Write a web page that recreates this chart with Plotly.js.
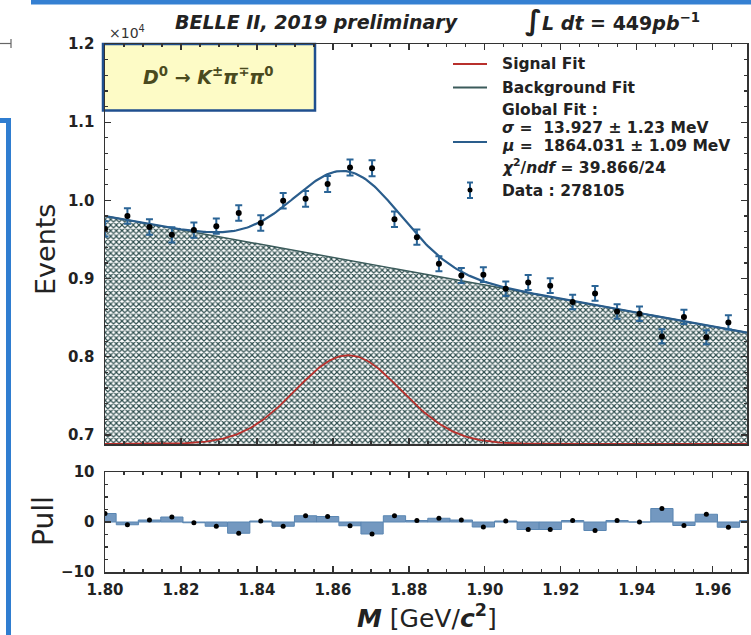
<!DOCTYPE html>
<html><head><meta charset="utf-8">
<script src="https://cdn.plot.ly/plotly-3.0.1.min.js"></script>
<style>body{margin:0;background:#fff}#chart{width:751px;height:635px}</style>
</head><body><div id="chart"></div>
<script>
// ---- data (events in units of 10^4) ----
const massBins = [1.8000,1.8059,1.8117,1.8176,1.8234,1.8293,1.8352,1.8410,1.8469,1.8528,1.8586,1.8645,1.8703,1.8762,1.8821,1.8879,1.8938,1.8996,1.9055,1.9114,1.9172,1.9231,1.9290,1.9348,1.9407,1.9466,1.9524,1.9583,1.9641];
const events   = [0.9635,0.980,0.966,0.956,0.962,0.967,0.984,0.971,0.9995,1.002,1.021,1.042,1.041,0.976,0.953,0.919,0.904,0.905,0.887,0.895,0.891,0.870,0.881,0.858,0.855,0.826,0.851,0.825,0.844];
const eventErr = [0.0098,0.0099,0.0098,0.0098,0.0098,0.0098,0.0099,0.0099,0.0100,0.0100,0.0101,0.0102,0.0102,0.0099,0.0098,0.0096,0.0095,0.0095,0.0094,0.0095,0.0094,0.0093,0.0094,0.0093,0.0092,0.0091,0.0092,0.0091,0.0092];
const pullBins = [1.8000,1.8059,1.8117,1.8176,1.8234,1.8293,1.8352,1.8410,1.8469,1.8528,1.8586,1.8645,1.8703,1.8762,1.8821,1.8879,1.8938,1.8996,1.9055,1.9114,1.9172,1.9231,1.9290,1.9348,1.9407,1.9466,1.9524,1.9583,1.9641,1.9700];
const pulls    = [1.7,-0.55,0.4,1.0,-0.15,-0.85,-2.25,0.2,-0.85,1.25,1.1,-0.75,-2.4,1.25,0.3,0.75,0.4,-1.0,0.2,-1.5,-1.5,0.3,-1.7,0.3,0.0,2.7,-0.7,1.55,-1.05,0.3];
const binWidth = 0.005862;
// fit parameters
const fitMu = 1.864031, fitSigma = 0.013927;
const bkgAt180 = 0.980, bkgSlope = -0.882, sigAmp = 0.1135;
const xMin = 1.80, xMax = 1.969, yMin = 0.6885, yMax = 1.2;

// fit model curves
const fitX = [], bkgY = [], sigY = [], globY = [];
for (let x = xMin; x <= xMax + 1e-9; x += 0.0005) {
  const b = bkgAt180 + bkgSlope * (x - 1.80);
  const g = sigAmp * Math.exp(-Math.pow(x - fitMu, 2) / (2 * fitSigma * fitSigma));
  fitX.push(x); bkgY.push(b); sigY.push(yMin + g); globY.push(b + g);
}

// pixel -> paper helpers (plot area: x 105..747, y 44..572)
const L = 105, R = 747, T = 44, B = 572;
const PX = p => (p - L) / (R - L);
const PY = p => (B - p) / (B - T);

const F = 'DejaVu Sans';
const tickCol = '#333';

const traces = [
  {x: fitX, y: bkgY, type:'scatter', mode:'lines', fill:'tozeroy',
   fillpattern:{shape:'x', fgcolor:'#2f4f4f', bgcolor:'#ffffff', size:4, solidity:0.5},
   line:{color:'#3b5b5b', width:1.5}, xaxis:'x', yaxis:'y', hoverinfo:'skip'},
  {x: fitX, y: sigY, type:'scatter', mode:'lines', line:{color:'#b8302c', width:1.8}, xaxis:'x', yaxis:'y'},
  {x: fitX, y: globY, type:'scatter', mode:'lines', line:{color:'#2a5d8c', width:2.2}, xaxis:'x', yaxis:'y'},
  {x: massBins, y: events, type:'scatter', mode:'markers',
   marker:{color:'#000', size:6},
   error_y:{type:'data', array:eventErr, color:'#2a6496', thickness:2, width:3.5},
   xaxis:'x', yaxis:'y'},
  {x: pullBins, y: pulls, type:'bar', width: binWidth, base:0,
   marker:{color:'#7398c0', line:{color:'#5a86b2', width:1}}, xaxis:'x2', yaxis:'y2'},
  {x: pullBins, y: pulls, type:'scatter', mode:'markers', marker:{color:'#000', size:5}, xaxis:'x2', yaxis:'y2'}
];

const axCommon = {showline:true, linecolor:'#333', linewidth:1.5, mirror:'allticks', ticks:'inside',
  ticklen:6, tickwidth:1.2, tickcolor:tickCol, showgrid:false, zeroline:false,
  tickfont:{family:F, size:15, color:'#222', weight:'bold'}};

function ann(text, x, y, size, extra) {
  return Object.assign({text:text, xref:'paper', yref:'paper', x:PX(x), y:PY(y), xanchor:'center', yanchor:'middle',
    showarrow:false, font:{family:F, size:size, color:'#222'}}, extra || {});
}

const layout = {
  width:751, height:635, showlegend:false,
  margin:{l:L, r:751-R, t:T, b:635-B},
  paper_bgcolor:'#fff', plot_bgcolor:'rgba(0,0,0,0)',
  bargap:0,
  xaxis: Object.assign({}, axCommon, {domain:[0,1], range:[xMin,xMax], anchor:'y', showticklabels:false,
    tick0:1.8, dtick:0.02, minor:{dtick:0.005, ticks:'inside', ticklen:3, tickcolor:tickCol}}),
  yaxis: Object.assign({}, axCommon, {domain:[PY(444),1], range:[yMin,yMax], anchor:'x',
    tick0:0.7, dtick:0.1, tickformat:'.1f', ticklabelstandoff:6,
    minor:{dtick:0.02, ticks:'inside', ticklen:3, tickcolor:tickCol}}),
  xaxis2: Object.assign({}, axCommon, {domain:[0,1], range:[xMin,xMax], anchor:'y2', matches:'x',
    tick0:1.8, dtick:0.02, tickformat:'.2f', ticklabelstandoff:3,
    minor:{dtick:0.005, ticks:'inside', ticklen:3, tickcolor:tickCol}}),
  yaxis2: Object.assign({}, axCommon, {domain:[0,PY(472)], range:[-10,10], anchor:'x2',
    tickvals:[-10,0,10], ticklabelstandoff:6,
    minor:{dtick:2.5, ticks:'inside', ticklen:3, tickcolor:tickCol}}),
  shapes: [
    // decay-mode box
    {type:'rect', xref:'paper', yref:'paper', x0:PX(103), x1:PX(315), y0:PY(110.5), y1:PY(44),
     fillcolor:'#fdfbc6', line:{color:'#1f4f8f', width:2.5}, layer:'below'},
    // legend samples
    {type:'line', xref:'paper', yref:'paper', x0:PX(453), x1:PX(487), y0:PY(64), y1:PY(64), line:{color:'#b8302c', width:1.8}},
    {type:'line', xref:'paper', yref:'paper', x0:PX(453), x1:PX(487), y0:PY(87.5), y1:PY(87.5), line:{color:'#3b5b5b', width:1.8}},
    {type:'line', xref:'paper', yref:'paper', x0:PX(453), x1:PX(487), y0:PY(142), y1:PY(142), line:{color:'#2a5d8c', width:1.8}},
    {type:'line', xref:'paper', yref:'paper', x0:PX(470), x1:PX(470), y0:PY(182.5), y1:PY(198), line:{color:'#2a6496', width:2}},
    {type:'line', xref:'paper', yref:'paper', x0:PX(467), x1:PX(473), y0:PY(182.5), y1:PY(182.5), line:{color:'#2a6496', width:2}},
    {type:'line', xref:'paper', yref:'paper', x0:PX(467), x1:PX(473), y0:PY(198), y1:PY(198), line:{color:'#2a6496', width:2}},
    {type:'circle', xref:'paper', yref:'paper', x0:PX(467.5), x1:PX(472.5), y0:PY(192.5), y1:PY(187.5), fillcolor:'#000', line:{width:0}},
    // slide frame decorations
    {type:'rect', xref:'paper', yref:'paper', x0:PX(31), x1:PX(751), y0:PY(4.5), y1:PY(0), fillcolor:'#3580d2', line:{width:0}},
    {type:'rect', xref:'paper', yref:'paper', x0:PX(6), x1:PX(11), y0:PY(635), y1:PY(118), fillcolor:'#2f7dd0', line:{width:0}},
    {type:'rect', xref:'paper', yref:'paper', x0:PX(0), x1:PX(11), y0:PY(123), y1:PY(118), fillcolor:'#2f7dd0', line:{width:0}},
    {type:'line', xref:'paper', yref:'paper', x0:PX(0), x1:PX(11), y0:PY(43.5), y1:PY(43.5), line:{color:'#666', width:1.2}},
    {type:'line', xref:'paper', yref:'paper', x0:PX(11), x1:PX(11), y0:PY(39), y1:PY(48), line:{color:'#666', width:1.2}}
  ],
  annotations: [
    ann('<b><i>D</i><sup>0</sup> → <i>K</i><sup>±</sup><i>π</i><sup>∓</sup><i>π</i><sup>0</sup></b>', 208, 76, 19, {font:{family:F, size:19, color:'#4a4a1e'}}),
    ann('<b><i>BELLE II, 2019 preliminary</i></b>', 317, 22, 19),
    ann('<b><span style="font-size:28px">∫</span><i>L dt</i> = 449<i>pb</i><sup>−1</sup></b>', 612, 20, 19),
    ann('×10<sup>4</sup>', 107, 32, 14, {xanchor:'left', font:{family:F, size:14, color:'#333'}}),
    ann('Events', 45, 250, 27, {textangle:-90}),
    ann('Pull', 43, 521, 28, {textangle:-90}),
    ann('<b><i>M</i></b> [GeV/<b><i>c</i><sup>2</sup></b>]', 427, 616, 25),
    // legend text
    ann('<b>Signal Fit</b>', 500, 64, 15.5, {xanchor:'left'}),
    ann('<b>Background Fit</b>', 500, 87.5, 15.5, {xanchor:'left'}),
    ann('<b>Global Fit :</b>', 500, 110, 15.5, {xanchor:'left'}),
    ann('<b><i>σ</i> =  13.927 ± 1.23 MeV</b>', 500, 128, 15.5, {xanchor:'left'}),
    ann('<b><i>μ</i> =  1864.031 ± 1.09 MeV</b>', 500, 146, 15.5, {xanchor:'left'}),
    ann('<b><i>χ</i><sup>2</sup>/<i>ndf</i> = 39.866/24</b>', 500, 166, 15.5, {xanchor:'left'}),
    ann('<b>Data : 278105</b>', 500, 191, 15.5, {xanchor:'left'})
  ]
};

Plotly.newPlot('chart', traces, layout, {staticPlot:true, displayModeBar:false});
</script>
</body></html>
